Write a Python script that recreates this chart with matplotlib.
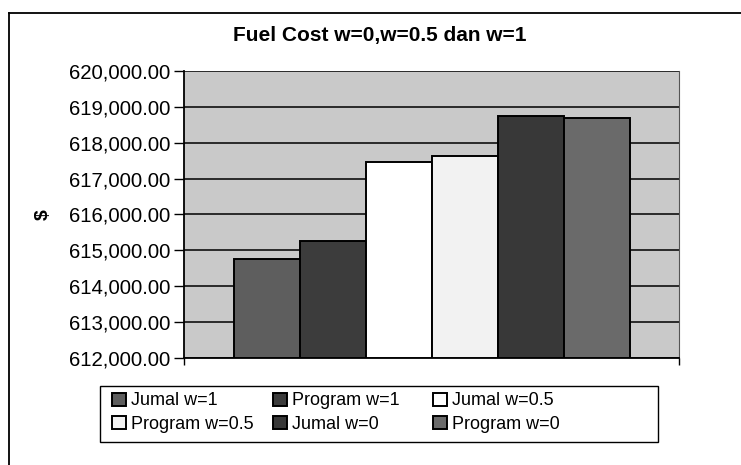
import matplotlib.pyplot as plt
import numpy as np
from matplotlib.lines import Line2D
from matplotlib.patches import Rectangle
from matplotlib.ticker import FuncFormatter

plt.rcParams["font.family"] = ["Liberation Sans", "DejaVu Sans"]

# one category, six series
VALUES = [614770, 615270, 617450, 617640, 618740, 618700]
COLORS = ["#5e5e5e", "#3c3c3c", "#ffffff", "#f2f2f2", "#383838", "#6a6a6a"]
LEGEND_LABELS = ["Jumal w=1", "Program w=1", "Jumal w=0.5",
                 "Program w=0.5", "Jumal w=0", "Program w=0"]

W, H = 741, 465
fig = plt.figure(figsize=(W / 100, H / 100), dpi=100)
ax = fig.add_axes([184 / W, 1 - 358 / H, 495 / W, 287 / H])
ax.set_facecolor("#c9c9c9")

n = len(VALUES)
width = 0.8 / n
offsets = (np.arange(n) - (n - 1) / 2) * width
for off, v, c, lab in zip(offsets, VALUES, COLORS, LEGEND_LABELS):
    ax.bar(off, v - 612000, bottom=612000, width=width, color=c,
           edgecolor="black", linewidth=1.4, label=lab, zorder=3)

ax.set_xlim(-0.5, 0.5)
ax.set_ylim(612000, 620000)
ax.set_yticks(np.arange(612000, 620001, 1000))
ax.yaxis.set_major_formatter(FuncFormatter(lambda v, p: f"{v:,.2f}"))
ax.tick_params(axis="y", labelsize=14.7, length=7, width=1, direction="out", pad=3)
ax.set_xticks([-0.5, 0.5])
ax.set_xticklabels([])
ax.tick_params(axis="x", length=5, width=1, direction="out")
ax.grid(axis="y", color="black", linewidth=1.1, zorder=1)
ax.set_axisbelow(True)
for s in ["left", "bottom"]:
    ax.spines[s].set_linewidth(1.3)
ax.spines["right"].set_color("#555555")
ax.spines["right"].set_linewidth(0.8)
ax.spines["top"].set_visible(False)

ax.set_ylabel("$", fontsize=14, fontweight="bold", labelpad=12)

fig.text(380 / W, 1 - 35 / H, "Fuel Cost w=0,w=0.5 dan w=1",
         ha="center", va="center", fontsize=15, fontweight="bold")

# outer chart frame (left and top edges visible in the scan)
fig.add_artist(Line2D([9 / W, 9 / W], [0, 1 - 13 / H], color="black", linewidth=1.3))
fig.add_artist(Line2D([9 / W, 1], [1 - 13 / H, 1 - 13 / H], color="black", linewidth=1.3))

# legend: box plus three fixed-width columns, filled row by row
fig.add_artist(Rectangle((100 / W, 1 - 442 / H), 558 / W, 56 / H,
                         transform=fig.transFigure, facecolor="white",
                         edgecolor="black", linewidth=1.0, zorder=4))
handles, labels = ax.get_legend_handles_labels()
col_x = [107, 268, 428]
for i, x in enumerate(col_x):
    leg = fig.legend([handles[i], handles[i + 3]], [labels[i], labels[i + 3]],
                     loc="upper left", bbox_to_anchor=(x / W, 1 - 387 / H),
                     fontsize=13, frameon=False, handlelength=0.75,
                     handleheight=0.75, handletextpad=0.3, labelspacing=0.35,
                     borderpad=0.3, borderaxespad=0)
    leg.set_zorder(5)

fig.savefig("out.png", dpi=100)
